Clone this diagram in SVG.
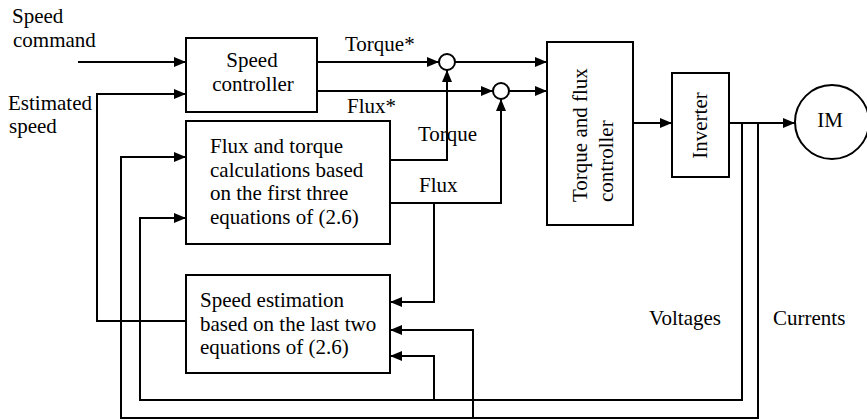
<svg xmlns="http://www.w3.org/2000/svg" width="867" height="420" viewBox="0 0 867 420" font-family="'Liberation Serif', 'Times New Roman', serif" font-size="21">
<style>
.box{fill:#fff;stroke:#000;stroke-width:2}
.sum{fill:#fff;stroke:#000;stroke-width:2}
.ln{fill:none;stroke:#000;stroke-width:2}
text{font-family:'Liberation Serif', 'Times New Roman', serif;font-size:21px;fill:#000}
.c{text-anchor:middle}
</style>
<defs>
<marker id="ah" markerUnits="userSpaceOnUse" markerWidth="12" markerHeight="10" refX="12" refY="5" orient="auto">
<path d="M0,0 L12,5 L0,10 z" fill="#000"/>
</marker>
</defs>
<g id="connectors">
<path class="ln" d="M78,62 H186" marker-end="url(#ah)"/>
<path class="ln" d="M186,321 H97 V94 H186" marker-end="url(#ah)"/>
<path class="ln" d="M317,62 H439" marker-end="url(#ah)"/>
<path class="ln" d="M455,62 H547" marker-end="url(#ah)"/>
<path class="ln" d="M317,91 H493" marker-end="url(#ah)"/>
<path class="ln" d="M509,91 H547" marker-end="url(#ah)"/>
<path class="ln" d="M390,160 H447 V70" marker-end="url(#ah)"/>
<path class="ln" d="M390,203 H501 V99" marker-end="url(#ah)"/>
<path class="ln" d="M434,203 V302 H390" marker-end="url(#ah)"/>
<path class="ln" d="M633,123 H672" marker-end="url(#ah)"/>
<path class="ln" d="M729,123 H795" marker-end="url(#ah)"/>
<path class="ln" d="M742,123 V400 H140 V218 H186" marker-end="url(#ah)"/>
<path class="ln" d="M434,400 V356 H390" marker-end="url(#ah)"/>
<path class="ln" d="M758,123 V418 H121 V157 H186" marker-end="url(#ah)"/>
<path class="ln" d="M473,418 V330 H390" marker-end="url(#ah)"/>
</g>
<g id="labels">
<text x="12" y="23">Speed</text>
<text x="13" y="47">command</text>
<text x="8" y="110">Estimated</text>
<text x="9" y="133">speed</text>
<text x="345" y="51">Torque*</text>
<text x="347" y="113">Flux*</text>
<text x="418" y="141">Torque</text>
<text x="419" y="192">Flux</text>
<text x="649" y="325">Voltages</text>
<text x="773" y="325">Currents</text>
</g>
<g id="speed-controller">
<rect class="box" x="186" y="38" width="131" height="74"/>
<text class="c" x="252" y="67">Speed</text>
<text class="c" x="253" y="91">controller</text>
</g>
<g id="flux-torque-calc">
<rect class="box" x="186" y="121" width="204" height="123"/>
<text x="210" y="153">Flux and torque</text>
<text x="210" y="176.5">calculations based</text>
<text x="210" y="200">on the first three</text>
<text x="210" y="223.5">equations of (2.6)</text>
</g>
<g id="speed-estimation">
<rect class="box" x="186" y="275" width="204" height="98"/>
<text x="200" y="307">Speed estimation</text>
<text x="200" y="330.5">based on the last two</text>
<text x="200" y="354">equations of (2.6)</text>
</g>
<g id="sum-torque">
<circle class="sum" cx="447" cy="62" r="8"/>
</g>
<g id="sum-flux">
<circle class="sum" cx="501" cy="91" r="8"/>
</g>
<g id="torque-flux-controller">
<rect class="box" x="547" y="42" width="86" height="183"/>
<text transform="translate(587,202) rotate(-90)">Torque and flux</text>
<text transform="translate(613,202) rotate(-90)">controller</text>
</g>
<g id="inverter">
<rect class="box" x="672" y="73" width="57" height="104"/>
<text class="c" transform="translate(707,125.5) rotate(-90)">Inverter</text>
</g>
<g id="im">
<circle class="sum" cx="832" cy="122" r="37"/>
<text class="c" x="830" y="127">IM</text>
</g>
</svg>
